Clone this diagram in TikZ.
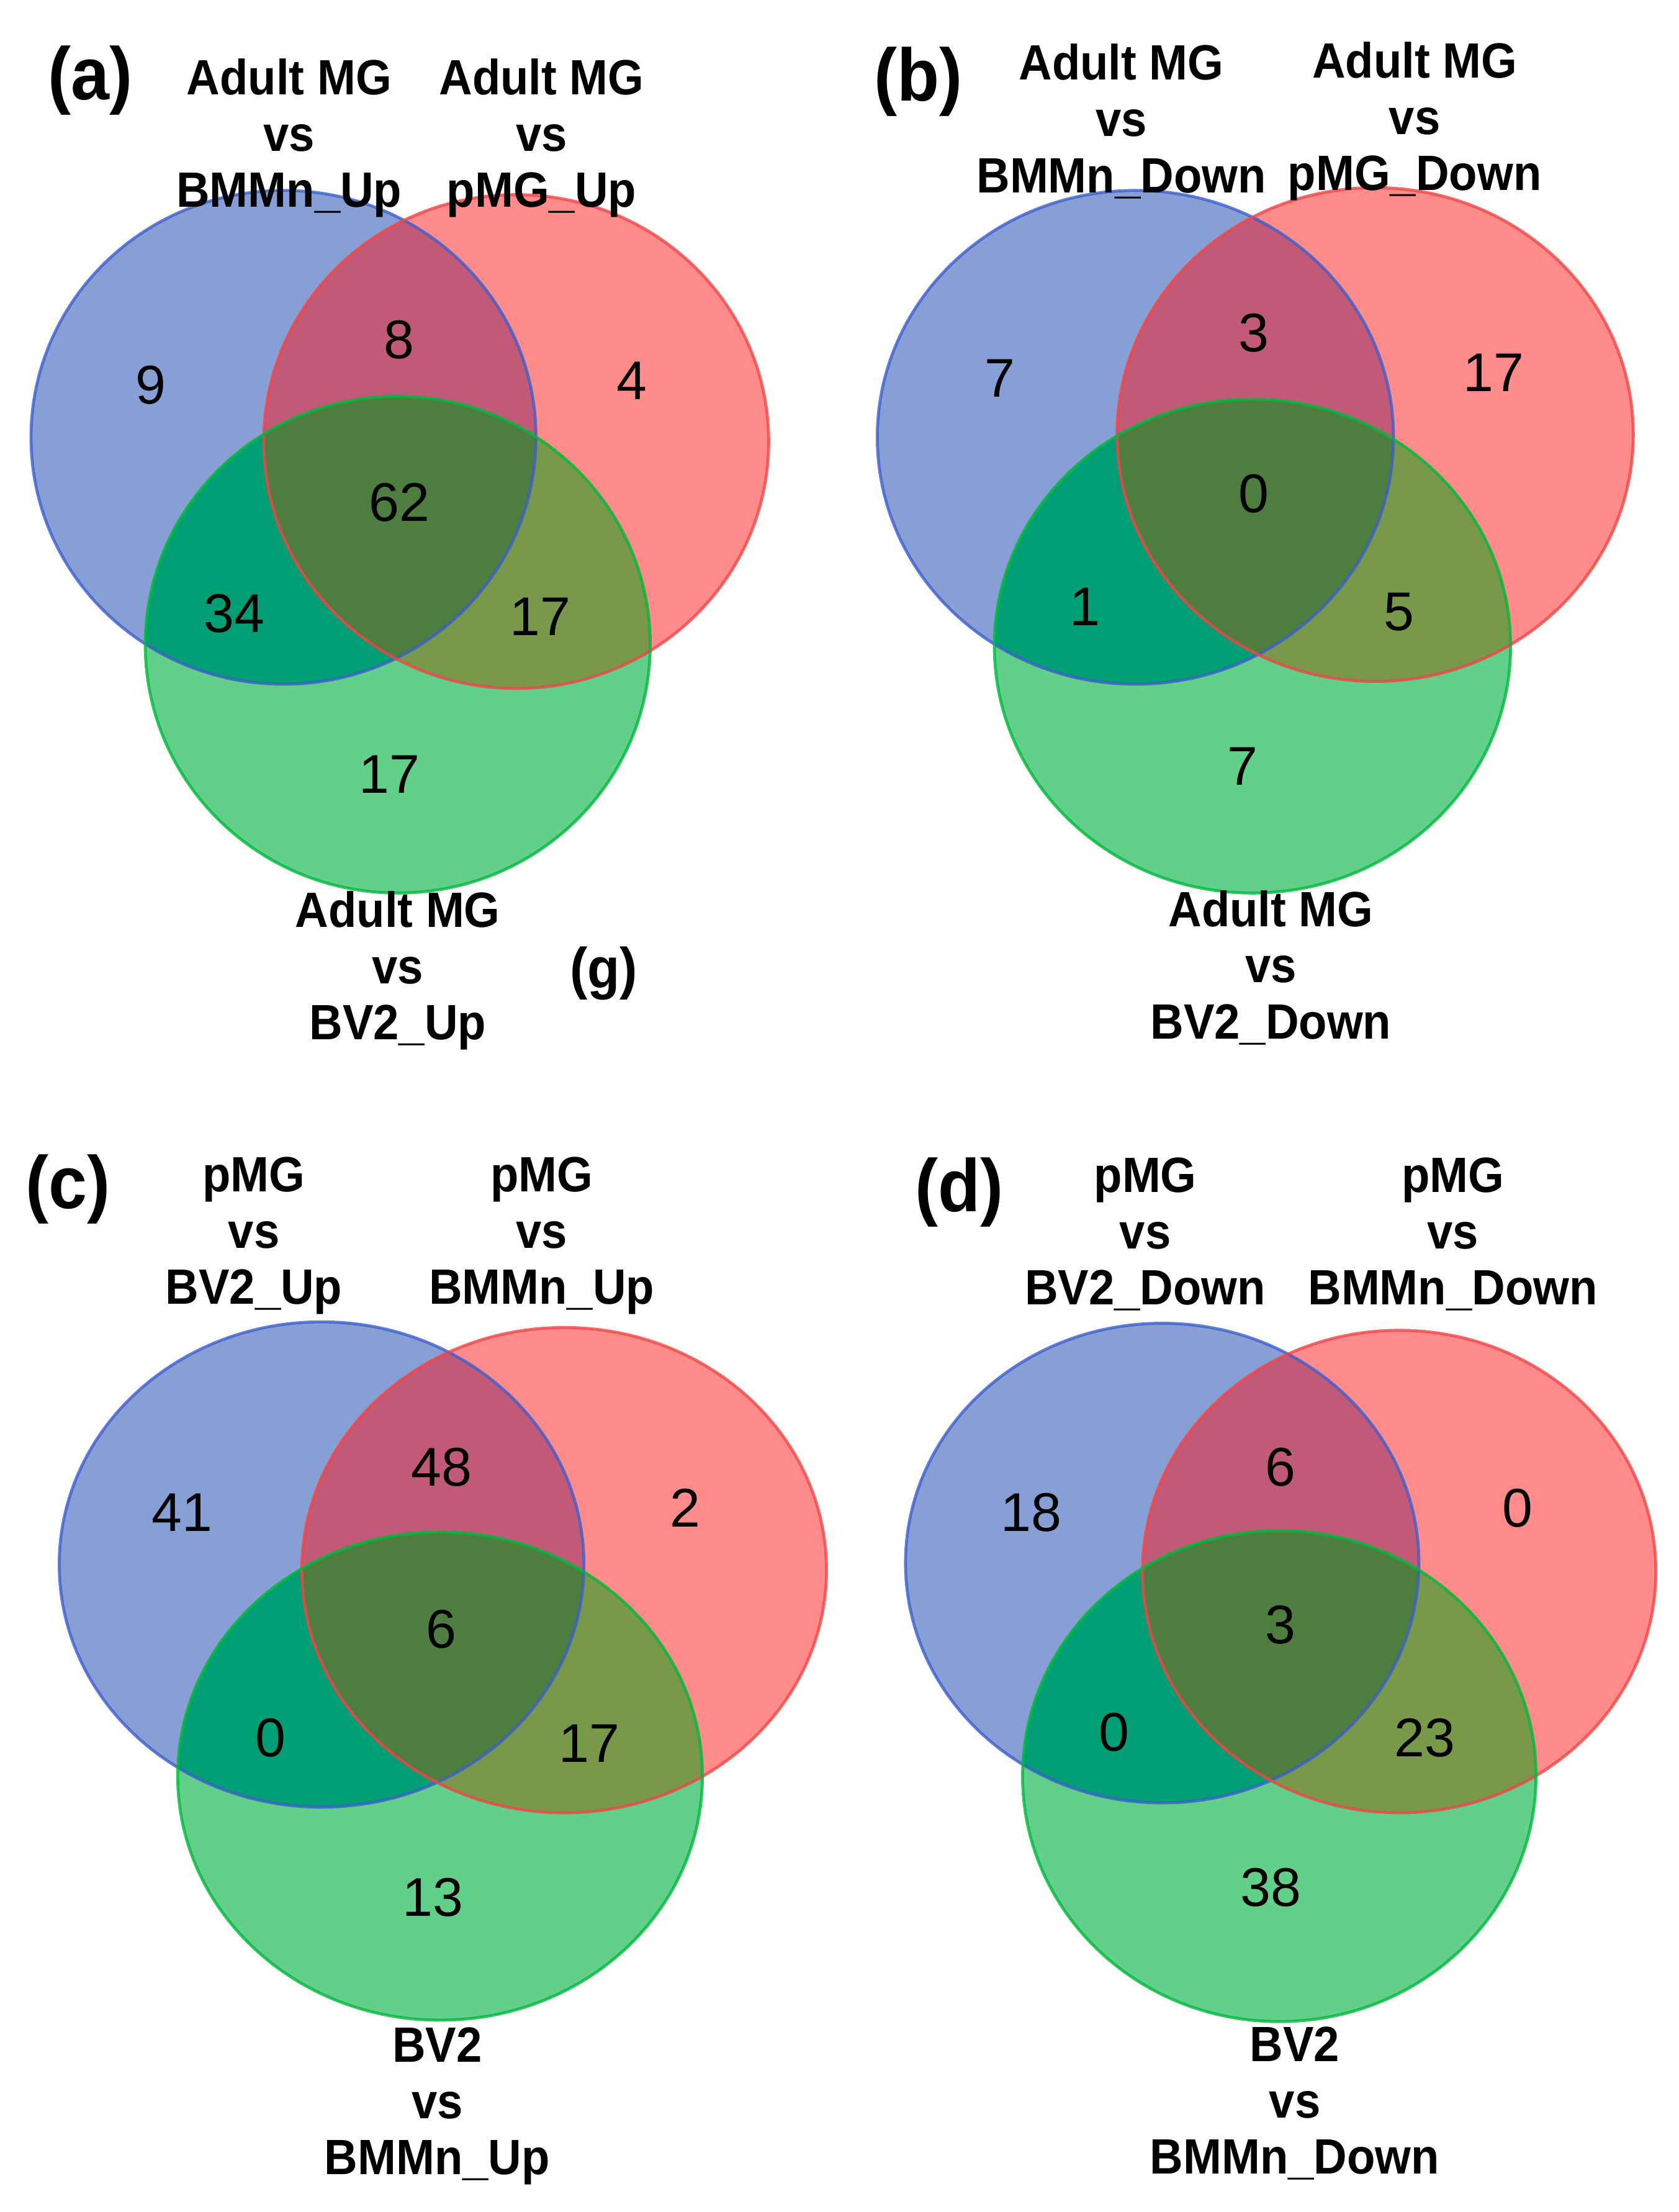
\documentclass[tikz,border=0pt]{standalone}
\usepackage{fontspec}
\setmainfont{Liberation Sans}
\newfontfamily\lblfont[FakeStretch=0.93]{Liberation Sans}
\definecolor{setA}{RGB}{136,159,214}
\definecolor{setB}{RGB}{255,139,139}
\definecolor{setC}{RGB}{98,207,138}
\definecolor{setAB}{RGB}{192,90,120}
\definecolor{setAC}{RGB}{0,158,116}
\definecolor{setBC}{RGB}{120,153,74}
\definecolor{setABC}{RGB}{78,125,64}
\definecolor{lineA}{RGB}{60,95,205}
\definecolor{lineB}{RGB}{240,70,70}
\definecolor{lineC}{RGB}{0,185,60}
\tikzset{num/.style={font=\fontsize{22}{26}\selectfont, inner sep=0pt},
         lbl/.style={font=\lblfont\bfseries\fontsize{20}{22.7}\selectfont, align=center, inner sep=0pt},
         tag/.style={font=\lblfont\bfseries\fontsize{30}{34}\selectfont, inner sep=0pt},
         rim/.style={line width=1.2pt, opacity=0.8}
}
% three sets, drawn from \circA, \circB, \circC
\newcommand{\drawvenn}{%
  \fill[setA] \circA; \fill[setB] \circB; \fill[setC] \circC;
  \begin{scope}\clip \circA; \fill[setAB] \circB; \end{scope}
  \begin{scope}\clip \circA; \fill[setAC] \circC; \end{scope}
  \begin{scope}\clip \circB; \fill[setBC] \circC; \end{scope}
  \begin{scope}\clip \circA; \clip \circB; \fill[setABC] \circC; \end{scope}
  \draw[rim, lineA] \circA; \draw[rim, lineB] \circB; \draw[rim, lineC] \circC;
}

\begin{document}
\begin{tikzpicture}[x=0.02cm, y=-0.02cm]
  \fill[white] (0,0) rectangle (1190,1568);
  \useasboundingbox (0,0) rectangle (1190,1568);

  % (a)
  \def\circA{(201,310) ellipse [x radius=179, y radius=175]}
  \def\circB{(366,313) ellipse [x radius=179, y radius=175]}
  \def\circC{(282,457) ellipse [x radius=179, y radius=176]}
  \drawvenn
  \node[num] (aA)   at (107,273) {9};
  \node[num] (aAB)  at (283,241) {8};
  \node[num] (aB)   at (448,270) {4};
  \node[num] (aABC) at (283,356) {62};
  \node[num] (aAC)  at (166,435) {34};
  \node[num] (aBC)  at (383,437) {17};
  \node[num] (aC)   at (276,549) {17};
  \node[tag] (aTag) at (64,57) {(a)};
  \node[lbl] (aLA) at (205,98) {Adult MG\\vs\\BMMn\_Up};
  \node[lbl] (aLB) at (384,98) {Adult MG\\vs\\pMG\_Up};
  \node[lbl] (aLC) at (282,688) {Adult MG\\vs\\BV2\_Up};
  \node[lbl, font=\lblfont\bfseries\fontsize{23}{26}\selectfont] (gTag) at (428,690) {(g)};

  % (b)
  \def\circA{(805,310) ellipse [x radius=183, y radius=175]}
  \def\circB{(975,308) ellipse [x radius=183, y radius=175]}
  \def\circC{(888,458) ellipse [x radius=183, y radius=175]}
  \drawvenn
  \node[num] (bA)   at (709,268) {7};
  \node[num] (bAB)  at (889,236) {3};
  \node[num] (bB)   at (1059,264) {17};
  \node[num] (bABC) at (889,350) {0};
  \node[num] (bAC)  at (769,430) {1};
  \node[num] (bBC)  at (992,434) {5};
  \node[num] (bC)   at (881,543) {7};
  \node[tag] (bTag) at (651,58) {(b)};
  \node[lbl] (bLA) at (795,86) {Adult MG\\vs\\BMMn\_Down};
  \node[lbl] (bLB) at (1003,86) {Adult MG\\vs\\pMG\_Down};
  \node[lbl] (bLC) at (901,686) {Adult MG\\vs\\BV2\_Down};

  % (c)
  \def\circA{(228,1109) ellipse [x radius=186, y radius=172]}
  \def\circB{(400,1113) ellipse [x radius=186, y radius=172]}
  \def\circC{(312,1259) ellipse [x radius=186, y radius=173]}
  \drawvenn
  \node[num] (cA)   at (129,1072) {41};
  \node[num] (cAB)  at (313,1040) {48};
  \node[num] (cB)   at (486,1069) {2};
  \node[num] (cABC) at (313,1155) {6};
  \node[num] (cAC)  at (192,1232) {0};
  \node[num] (cBC)  at (418,1236) {17};
  \node[num] (cC)   at (307,1345) {13};
  \node[tag] (cTag) at (48,843) {(c)};
  \node[lbl] (cLA) at (180,876) {pMG\\vs\\BV2\_Up};
  \node[lbl] (cLB) at (384,876) {pMG\\vs\\BMMn\_Up};
  \node[lbl] (cLC) at (310,1493) {BV2\\vs\\BMMn\_Up};

  % (d)
  \def\circA{(824,1108) ellipse [x radius=182, y radius=170]}
  \def\circB{(992,1114) ellipse [x radius=182, y radius=171]}
  \def\circC{(907,1259) ellipse [x radius=182, y radius=174]}
  \drawvenn
  \node[num] (dA)   at (731,1072) {18};
  \node[num] (dAB)  at (908,1040) {6};
  \node[num] (dB)   at (1076,1069) {0};
  \node[num] (dABC) at (908,1152) {3};
  \node[num] (dAC)  at (790,1228) {0};
  \node[num] (dBC)  at (1010,1232) {23};
  \node[num] (dC)   at (901,1338) {38};
  \node[tag] (dTag) at (680,845) {(d)};
  \node[lbl] (dLA) at (812,875) {pMG\\vs\\BV2\_Down};
  \node[lbl] (dLB) at (1030,875) {pMG\\vs\\BMMn\_Down};
  \node[lbl] (dLC) at (918,1491) {BV2\\vs\\BMMn\_Down};
\end{tikzpicture}
\end{document}
